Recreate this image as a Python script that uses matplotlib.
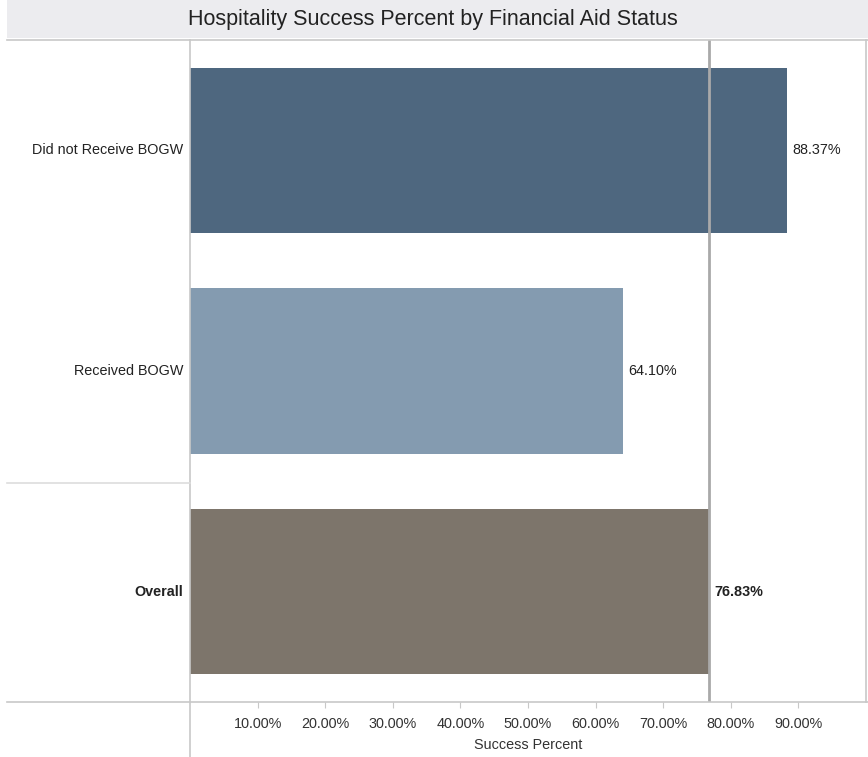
import matplotlib.pyplot as plt
from matplotlib.lines import Line2D
from matplotlib.patches import Rectangle

plt.rcParams['font.family'] = ['Liberation Sans', 'DejaVu Sans']

# data
categories = ['Did not Receive BOGW', 'Received BOGW', 'Overall']
success_pct = [88.37, 64.10, 76.83]
bar_colors = ['#4e677f', '#849bb0', '#7d756b']
tick_values = [10, 20, 30, 40, 50, 60, 70, 80, 90]
tick_labels = ['10.00%', '20.00%', '30.00%', '40.00%', '50.00%', '60.00%', '70.00%', '80.00%', '90.00%']

W, H = 868, 757
fig = plt.figure(figsize=(W / 100, H / 100), dpi=100)
fig.patch.set_facecolor('white')

def fx(px):
    return px / W

def fy(py):
    return 1 - py / H

# title bar
fig.patches.append(Rectangle((fx(7), fy(38)), fx(W - 7), 38 / H, transform=fig.transFigure,
                             facecolor='#ececef', edgecolor='none', zorder=0))
fig.text(fx(433), fy(20), 'Hospitality Success Percent by Financial Aid Status',
         ha='center', va='center', fontsize=15.5, color='#222222')

left, right, top, bottom = 190, 866, 40, 702
ax = fig.add_axes([fx(left), fy(bottom), fx(right - left), (bottom - top) / H])

ypos = list(range(len(categories)))
ax.barh(ypos, success_pct, height=0.75, color=bar_colors, zorder=2)
ax.set_ylim(len(categories) - 0.5, -0.5)
ax.set_xlim(0, 100)

# overall reference line
ax.axvline(success_pct[-1], color='#a9a9a9', lw=2, zorder=3)

fs = 10.4
for i, v in enumerate(success_pct):
    ax.text(v + 0.7, i, f'{v:.2f}%', va='center', ha='left', fontsize=fs,
            color='#222222', fontweight='bold' if categories[i] == 'Overall' else 'normal')

ax.set_yticks([])
ax.set_xticks(tick_values)
ax.set_xticklabels(tick_labels, fontsize=fs, color='#333333')
ax.tick_params(axis='x', length=4, color='#c8c8c8', pad=7)
for s in ax.spines.values():
    s.set_visible(False)
ax.set_xlabel('Success Percent', fontsize=fs, color='#333333', labelpad=5)

# row labels
for i, c in enumerate(categories):
    yc = top + (i + 0.5) * (bottom - top) / len(categories)
    fig.text(fx(183), fy(yc), c, ha='right', va='center', fontsize=fs, color='#222222',
             fontweight='bold' if c == 'Overall' else 'normal')

# frame lines
gray = '#c8c8c8'
fig.lines.append(Line2D([fx(7), fx(W)], [fy(top), fy(top)], transform=fig.transFigure, color=gray, lw=1.2))
fig.lines.append(Line2D([fx(7), fx(W)], [fy(bottom), fy(bottom)], transform=fig.transFigure, color=gray, lw=1.2))
fig.lines.append(Line2D([fx(left), fx(left)], [fy(top), fy(H)], transform=fig.transFigure, color=gray, lw=1.2))
fig.lines.append(Line2D([fx(right), fx(right)], [fy(top), fy(bottom)], transform=fig.transFigure, color=gray, lw=1.2))
fig.lines.append(Line2D([fx(7), fx(left)], [fy(483), fy(483)], transform=fig.transFigure, color='#dddddd', lw=1.2))

fig.savefig('out.png', dpi=100)
